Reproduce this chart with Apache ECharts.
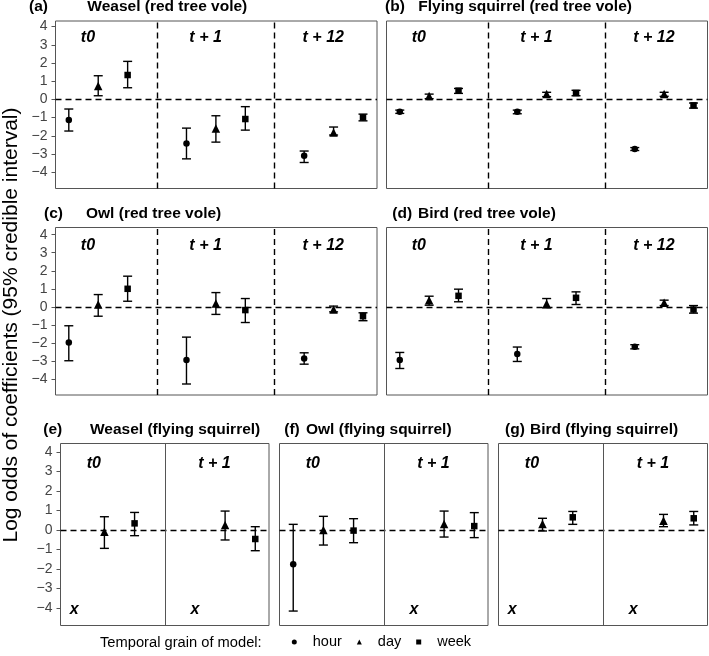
<!DOCTYPE html>
<html><head><meta charset="utf-8">
<script src="https://cdn.jsdelivr.net/npm/echarts@6/dist/echarts.min.js"></script>
<style>html,body{margin:0;padding:0;background:#fff}#c{width:709px;height:656px}</style>
</head><body><div id="c"></div>
<script>
// ---------- data ----------
const grains = ['hour', 'day', 'week'];
const lagLabels = ['t0', 't + 1', 't + 12'];
const yTicks = [-4, -3, -2, -1, 0, 1, 2, 3, 4];
const panelLetters = ['(a)', '(b)', '(c)', '(d)', '(e)', '(f)', '(g)'];
const panelNames = ['Weasel (red tree vole)', 'Flying squirrel (red tree vole)', 'Owl (red tree vole)',
  'Bird (red tree vole)', 'Weasel (flying squirrel)', 'Owl (flying squirrel)', 'Bird (flying squirrel)'];
const yTitle = 'Log odds of coefficients (95% credible interval)';
const legendTitle = 'Temporal grain of model:';
const missingMark = 'x';
// order in each array: t0 hour, day, week | t+1 hour, day, week | t+12 hour, day, week
const a_mean = [-1.14, 0.73, 1.34, -2.42, -1.60, -1.08, -3.10, -1.82, -0.99];
const a_low  = [-1.74, 0.20, 0.64, -3.27, -2.35, -1.69, -3.47, -1.96, -1.18];
const a_high = [-0.53, 1.30, 2.09, -1.58, -0.90, -0.40, -2.84, -1.52, -0.81];
const b_mean = [-0.68, 0.18, 0.48, -0.68, 0.29, 0.35, -2.73, 0.29, -0.33];
const b_low  = [-0.77, 0.04, 0.33, -0.79, 0.15, 0.20, -2.81, 0.17, -0.48];
const b_high = [-0.59, 0.29, 0.60, -0.59, 0.39, 0.50, -2.65, 0.39, -0.20];
const c_mean = [-1.98, 0.13, 1.00, -2.95, 0.18, -0.18, -2.86, -0.15, -0.52];
const c_low  = [-2.99, -0.52, 0.31, -4.28, -0.42, -0.87, -3.18, -0.28, -0.77];
const c_high = [-1.05, 0.68, 1.70, -1.68, 0.79, 0.46, -2.55, 0.04, -0.33];
const d_mean = [-2.95, 0.37, 0.61, -2.62, 0.17, 0.50, -2.22, 0.22, -0.15];
const d_low  = [-3.42, 0.09, 0.28, -3.03, -0.06, 0.13, -2.33, 0.07, -0.35];
const d_high = [-2.53, 0.59, 0.98, -2.23, 0.46, 0.83, -2.10, 0.37, 0.07];
// order: t0 hour, day, week | t+1 hour, day, week (null = not estimated)
const e_mean = [null, -0.09, 0.34, null, 0.26, -0.46];
const e_low  = [null, -0.94, -0.29, null, -0.51, -1.06];
const e_high = [null, 0.68, 0.90, null, 0.97, 0.17];
const f_mean = [-1.75, 0.00, -0.03, null, 0.31, 0.20];
const f_low  = [-4.15, -0.77, -0.65, null, -0.36, -0.39];
const f_high = [0.29, 0.70, 0.58, null, 0.97, 0.89];
const g_mean = [null, 0.31, 0.65, null, 0.48, 0.60];
const g_low  = [null, -0.05, 0.29, null, 0.17, 0.26];
const g_high = [null, 0.60, 0.95, null, 0.80, 0.95];

// ---------- layout ----------
const FONT = '"Liberation Sans", Arial, Helvetica, sans-serif';
const panelData = [[a_mean, a_low, a_high], [b_mean, b_low, b_high], [c_mean, c_low, c_high],
  [d_mean, d_low, d_high], [e_mean, e_low, e_high], [f_mean, f_low, f_high], [g_mean, g_low, g_high]];
const grids = [
  {left: 55.5, top: 21, width: 321.5, height: 167.5},
  {left: 386.5, top: 21, width: 321, height: 167.5},
  {left: 55.5, top: 227.5, width: 321.5, height: 167.5},
  {left: 386.5, top: 227.5, width: 321, height: 167.5},
  {left: 60.5, top: 443.5, width: 208.5, height: 182},
  {left: 279.5, top: 443.5, width: 208.5, height: 182},
  {left: 498.5, top: 443.5, width: 209, height: 182}
];
const yRanges = [[-4.9, 4.31], [-4.9, 4.31], [-4.89, 4.4], [-4.89, 4.4], [-4.89, 4.43], [-4.89, 4.43], [-4.89, 4.43]];
const titlePos = [ // [letterX, nameX, centerY]
  [29, 87.3, 7], [385, 418.3, 7], [44, 86, 214], [392.3, 418, 214],
  [43.3, 90, 430], [284.3, 306, 430], [505, 530, 430]
];
const slots9 = [1, 2, 3, 5, 6, 7, 9, 10, 11];
const slots6 = [1, 2, 3, 5, 6, 7];
const grainSymbols = ['circle', 'triangle', 'rect'];
const grainSizes = [6.5, 8.5, 6.5];
const lagLabelDx = 0.65, lagLabelY = 3.4, missingY = -4.05;

function errRender(params, api) {
  const x = api.value(0), lo = api.value(1), hi = api.value(2);
  const pL = api.coord([x, lo]), pH = api.coord([x, hi]);
  const cap = 4.5, st = {stroke: '#000', lineWidth: 1.4};
  return {type: 'group', children: [
    {type: 'line', shape: {x1: pL[0], y1: pL[1], x2: pH[0], y2: pH[1]}, style: st},
    {type: 'line', shape: {x1: pL[0] - cap, y1: pL[1], x2: pL[0] + cap, y2: pL[1]}, style: st},
    {type: 'line', shape: {x1: pH[0] - cap, y1: pH[1], x2: pH[0] + cap, y2: pH[1]}, style: st}
  ]};
}

const series = [], xAxes = [], yAxes = [];
panelData.forEach(([m, lo, hi], i) => {
  const slots = m.length === 9 ? slots9 : slots6;
  const nLags = slots.length / 3;
  const xr = nLags === 3 ? [0.548, 11.476] : [0.545, 7.455];
  xAxes.push({type: 'value', gridIndex: i, min: xr[0], max: xr[1], show: false});
  const leftCol = (i === 0 || i === 2 || i === 4);
  yAxes.push({type: 'value', gridIndex: i, min: yRanges[i][0], max: yRanges[i][1], show: leftCol,
    axisLine: {show: false}, splitLine: {show: false},
    axisTick: {show: true, length: 4, customValues: yTicks, lineStyle: {color: '#555', width: 1}},
    axisLabel: {customValues: yTicks, margin: 8, color: '#444', fontSize: 14, fontFamily: FONT,
      formatter: v => String(v).replace('-', '\u2212')}});
  const eb = [];
  slots.forEach((x, k) => { if (m[k] != null) eb.push([x, lo[k], hi[k]]); });
  const dashed = {color: '#000', width: 1.4, type: [6, 4]};
  const mlData = [{yAxis: 0, lineStyle: dashed}];
  if (nLags === 3) { mlData.push({xAxis: 4, lineStyle: dashed}, {xAxis: 8, lineStyle: dashed}); }
  else { mlData.push({xAxis: 4, lineStyle: {color: '#555', width: 1, type: 'solid'}}); }
  series.push({type: 'custom', xAxisIndex: i, yAxisIndex: i, renderItem: errRender, data: eb, z: 3,
    silent: true,
    markLine: {silent: true, symbol: ['none', 'none'], label: {show: false}, data: mlData, z: 2}});
  grains.forEach((g, gi) => {
    const d = [];
    slots.forEach((x, k) => { if (k % 3 === gi && m[k] != null) d.push([x, m[k]]); });
    series.push({type: 'scatter', name: g, xAxisIndex: i, yAxisIndex: i, symbol: grainSymbols[gi],
      symbolSize: grainSizes[gi], itemStyle: {color: '#000', opacity: 1}, data: d, z: 4, silent: true});
  });
  const txt = [], txtStr = [], txtFont = [];
  for (let L = 0; L < nLags; L++) { txt.push([slots[L * 3] + lagLabelDx, lagLabelY]); txtStr.push(lagLabels[L]); txtFont.push(16); }
  slots.forEach((x, k) => { if (m[k] == null) { txt.push([x, missingY]); txtStr.push(missingMark); txtFont.push(16); } });
  series.push({type: 'custom', xAxisIndex: i, yAxisIndex: i, data: txt, z: 5, silent: true,
    renderItem: (p, api) => {
      const pt = api.coord([api.value(0), api.value(1)]);
      return {type: 'text', x: pt[0], y: pt[1], style: {text: txtStr[p.dataIndex], fill: '#000',
        font: 'italic bold ' + txtFont[p.dataIndex] + 'px ' + FONT, align: 'center', verticalAlign: 'middle'}};
    }});
});

const graphics = [];
titlePos.forEach(([lx, nx, cy], i) => {
  graphics.push({type: 'text', x: lx, y: cy, style: {text: panelLetters[i], font: 'bold 15.5px ' + FONT, fill: '#000', verticalAlign: 'middle'}});
  graphics.push({type: 'text', x: nx, y: cy, style: {text: panelNames[i], font: 'bold 15.5px ' + FONT, fill: '#000', verticalAlign: 'middle'}});
});
graphics.push({type: 'text', x: 11, y: 325, rotation: Math.PI / 2,
  style: {text: yTitle, font: '21px ' + FONT, fill: '#000', align: 'center', verticalAlign: 'middle'}});
graphics.push({type: 'text', x: 100, y: 643, style: {text: legendTitle, font: '14.7px ' + FONT, fill: '#000', verticalAlign: 'middle'}});

const option = {
  animation: false,
  backgroundColor: '#fff',
  grid: grids.map(g => Object.assign({show: true, borderColor: '#555', borderWidth: 1, backgroundColor: 'transparent', containLabel: false}, g)),
  xAxis: xAxes,
  yAxis: yAxes,
  legend: {
    data: grains.map((g, i) => ({name: g, icon: grainSymbols[i]})),
    left: 291.8, top: 634.5, padding: 0, itemWidth: 5, itemHeight: 5, itemGap: 15,
    selectedMode: false,
    itemStyle: {color: '#000'},
    textStyle: {fontSize: 14.5, fontFamily: FONT, color: '#000', padding: [0, 0, 0, 11]}
  },
  graphic: graphics,
  series: series
};
const chart = echarts.init(document.getElementById('c'));
chart.setOption(option);
</script>
</body></html>
